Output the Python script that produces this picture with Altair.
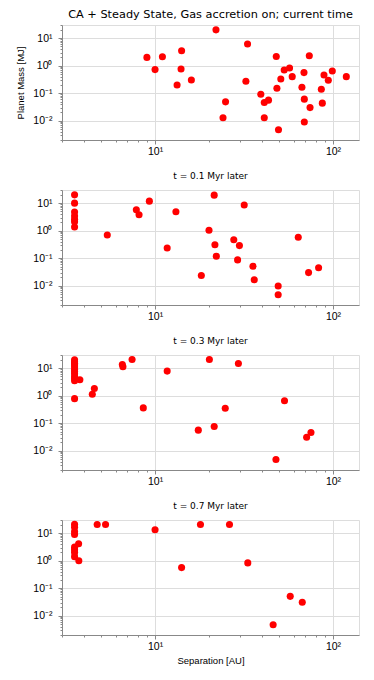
import altair as alt
import pandas as pd

# Panel 1: current time
sep0 = [9.0, 10.0, 11.0, 13.3, 14.1, 14.0, 16.0, 22.0, 24.1, 24.9, 32.4, 33.1, 39.3, 41.1, 41.1, 43.4,
        48.0, 48.4, 49.4, 50.9, 53.2, 57.0, 59.0, 66.9, 68.7, 69.0, 69.0, 73.6, 74.3, 86.0, 87.1, 89.0,
        94.1, 99.1, 118.8]
mass0 = [2.0, 0.72, 2.1, 0.2, 3.5, 0.76, 0.30, 20.0, 0.0128, 0.0486, 0.27, 6.1, 0.092, 0.046, 0.0128, 0.056,
         2.17, 0.152, 0.0047, 0.33, 0.70, 0.82, 0.40, 0.165, 0.56, 0.061, 0.0090, 2.3, 0.030, 0.14, 0.0436, 0.46,
         0.295, 0.64, 0.40]

# Panel 2: t = 0.1 Myr later
sep1 = [3.53, 3.53, 3.53, 3.53, 3.53, 3.53, 3.53, 5.39, 7.85, 8.13, 9.29, 11.7, 13.1, 18.2, 20.1, 21.5,
        21.7, 22.1, 27.7, 29.1, 29.8, 31.7, 35.5, 36.1, 49.2, 49.2, 63.8, 72.9, 83.0]
mass1 = [20.0, 10.0, 4.8, 3.4, 2.6, 2.1, 1.35, 0.70, 5.7, 3.8, 11.8, 0.236, 4.9, 0.0236, 1.03, 19.5,
         0.31, 0.118, 0.47, 0.087, 0.287, 8.5, 0.051, 0.0165, 0.0098, 0.0047, 0.574, 0.030, 0.045]

# Panel 3: t = 0.3 Myr later
sep2 = [3.53, 3.53, 3.53, 3.53, 3.53, 3.53, 3.53, 3.53, 3.53, 3.53, 3.53, 3.53, 3.78, 4.44, 4.56, 6.55,
        6.6, 7.43, 8.59, 11.7, 17.5, 20.2, 21.5, 24.8, 29.4, 47.8, 53.4, 71.1, 75.2]
mass2 = [20.0, 17.0, 15.0, 13.0, 11.0, 9.0, 7.5, 6.2, 5.0, 4.2, 3.5, 0.78, 3.77, 1.13, 1.82, 13.6,
         11.2, 20.7, 0.36, 7.8, 0.056, 20.7, 0.076, 0.35, 14.8, 0.0048, 0.65, 0.031, 0.046]

# Panel 4: t = 0.7 Myr later
sep3 = [3.53, 3.53, 3.53, 3.53, 3.53, 3.53, 3.53, 3.53, 3.72, 3.73, 4.73, 5.27, 10.0, 14.1, 18.0, 26.2,
        33.2, 46.1, 57.5, 67.2]
mass3 = [21.0, 16.5, 11.5, 9.0, 3.1, 2.5, 2.0, 1.4, 4.1, 1.0, 20.7, 20.7, 13.2, 0.56, 20.7, 20.7,
         0.83, 0.0047, 0.0506, 0.031]

titles = ["CA + Steady State, Gas accretion on; current time",
          "t = 0.1 Myr later", "t = 0.3 Myr later", "t = 0.7 Myr later"]

x_ticks = [3, 4, 5, 6, 7, 8, 9, 10, 20, 30, 40, 50, 60, 70, 80, 90, 100]
y_ticks = [m * 10 ** e for e in (-3, -2, -1, 0) for m in range(1, 10)] + [10, 20, 30]
y_ticks = [round(v, 6) for v in y_ticks if 0.002 <= v <= 30]

major_test = "abs(log(datum.value)/LN10 - round(log(datum.value)/LN10)) < 1e-6"
x_label = "datum.value == 10 ? '10¹' : datum.value == 100 ? '10²' : ''"
y_label = ("datum.value == 10 ? '10¹' : datum.value == 1 ? '10⁰' : "
           "datum.value == 0.1 ? '10⁻¹' : datum.value == 0.01 ? '10⁻²' : ''")

FONT = "DejaVu Sans"


def panel(sep, mass, title, first, last):
    df = pd.DataFrame({"sep": sep, "mass": mass})
    xaxis = alt.Axis(values=x_ticks, labelExpr=x_label, labelOverlap=False,
                     title="Separation [AU]" if last else None,
                     grid=True,
                     gridOpacity={"condition": {"test": major_test, "value": 1}, "value": 0},
                     tickSize={"condition": {"test": major_test, "value": 4}, "value": 2},
                     labelFontSize=10.5, titleFontSize=9.5, titleFontWeight="normal",
                     labelPadding=2, titlePadding=4)
    yaxis = alt.Axis(values=y_ticks, labelExpr=y_label, labelOverlap=False,
                     title="Planet Mass [MJ]" if first else None,
                     grid=True,
                     gridOpacity={"condition": {"test": major_test, "value": 1}, "value": 0},
                     tickSize={"condition": {"test": major_test, "value": 4}, "value": 2},
                     labelFontSize=10.5, titleFontSize=9.5, titleFontWeight="normal",
                     labelPadding=6, titlePadding=7)
    return alt.Chart(df).mark_circle(size=50, color="#ff0000", opacity=1).encode(
        x=alt.X("sep:Q", scale=alt.Scale(type="log", domain=[3, 140], nice=False), axis=xaxis),
        y=alt.Y("mass:Q", scale=alt.Scale(type="log", domain=[0.002, 30], nice=False), axis=yaxis),
    ).properties(
        width=297, height=115,
        title=alt.TitleParams(title, fontSize=11.3 if first else 9, font=FONT,
                              fontWeight="normal", offset=0 if first else 4),
    )


charts = [panel(sep0, mass0, titles[0], True, False),
          panel(sep1, mass1, titles[1], False, False),
          panel(sep2, mass2, titles[2], False, False),
          panel(sep3, mass3, titles[3], False, True)]

chart = alt.vconcat(*charts, spacing=14).properties(
    padding={"left": 7, "top": 0, "right": 5, "bottom": 5}
).configure_view(
    stroke="black", strokeWidth=1
).configure_axis(
    domain=False, gridColor="#b0b0b0", gridWidth=0.8, tickColor="black",
    labelColor="black", titleColor="black", labelFont=FONT, titleFont=FONT
).configure(background="white")

chart.save("out.html", embed_options={"renderer": "svg", "actions": False})
